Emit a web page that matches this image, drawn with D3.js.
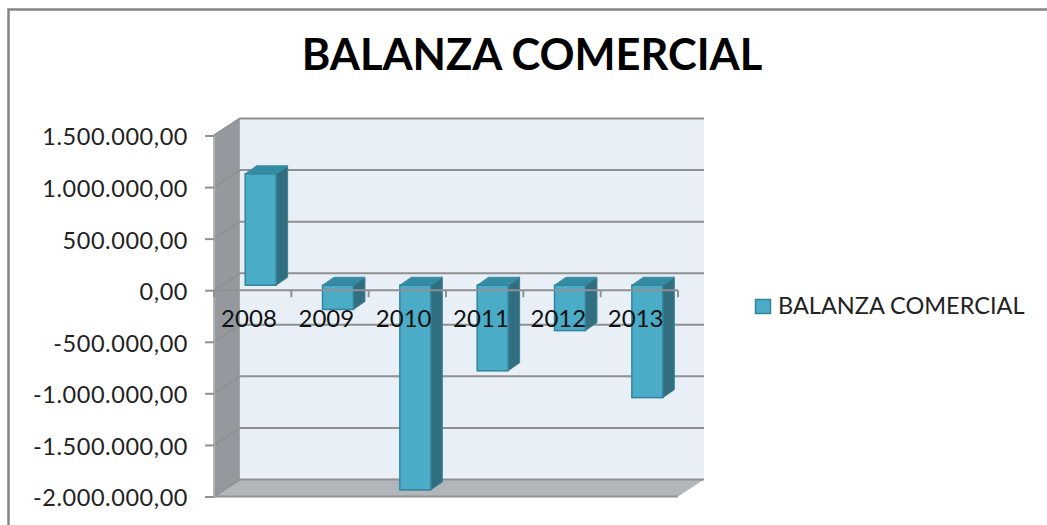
<!DOCTYPE html>
<html>
<head>
<meta charset="utf-8">
<script src="https://cdnjs.cloudflare.com/ajax/libs/d3/7.8.5/d3.min.js"></script>
<style>
  html, body { margin: 0; padding: 0; background: #fff; }
  svg { display: block; }
  svg text { font-family: Lato, "Open Sans", sans-serif; }
</style>
</head>
<body>
<div id="chart"></div>
<script>
// values
var years = ["2008", "2009", "2010", "2011", "2012", "2013"];
var balanza = [1080000, -235000, -1985000, -830000, -440000, -1090000];
var yTicks = [1500000, 1000000, 500000, 0, -500000, -1000000, -1500000, -2000000];
var chartTitle = "BALANZA COMERCIAL";
var seriesName = "BALANZA COMERCIAL";

var width = 1047,
    height = 525;

// front plane of the fake 3d box, wall sits behind it by depthX/depthY
var left = 214, right = 678, top_ = 135.5, bottom = 496.5;
var depthX = 26, depthY = 17;
// bars stand in the middle of the depth and have their own thickness
var barOffX = 8, barOffY = 5, barDepthX = 11.5, barDepthY = 8;

var gridColor = "#8f9193";

var x = d3.scaleBand().domain(years).range([left, right]).paddingInner(0.6).paddingOuter(0.3);
var y = d3.scaleLinear().domain([-2000000, 1500000]).range([bottom, top_]);

var numLocale = d3.formatLocale({decimal: ",", thousands: ".", grouping: [3], currency: ["", ""], minus: "-"});
var fmt = numLocale.format(",.2f");

var svg = d3.select("#chart").append("svg")
    .attr("width", width)
    .attr("height", height);

// outer frame, cut by the screenshot on the right and bottom
svg.append("path")
    .attr("d", "M8.5," + height + "V9.5H" + width)
    .attr("fill", "none")
    .attr("stroke", "#858585")
    .attr("stroke-width", 2.5);

// side wall
svg.append("path")
    .attr("d", "M" + left + "," + y(1500000) + "L" + (left + depthX) + "," + (y(1500000) - depthY) +
               "V" + (y(-2000000) - depthY) + "L" + left + "," + y(-2000000) + "Z")
    .attr("fill", "#95989c")
    .attr("stroke", "#a9abad")
    .attr("stroke-width", 1.5);

// back wall
svg.append("rect")
    .attr("x", left + depthX)
    .attr("y", y(1500000) - depthY)
    .attr("width", right - left)
    .attr("height", y(-2000000) - y(1500000))
    .attr("fill", "#e8eff6");

// floor
svg.append("path")
    .attr("d", "M" + left + "," + y(-2000000) + "L" + (left + depthX) + "," + (y(-2000000) - depthY) +
               "H" + (right + depthX) + "L" + right + "," + y(-2000000) + "Z")
    .attr("fill", "#b1b6ba");

// gridlines, along the wall and then down the side wall
svg.append("g").selectAll("path")
    .data(yTicks)
    .enter().append("path")
      .attr("d", function(d) {
        return "M" + left + "," + y(d) + "L" + (left + depthX) + "," + (y(d) - depthY) + "H" + (right + depthX);
      })
      .attr("fill", "none")
      .attr("stroke", gridColor)
      .attr("stroke-width", 2);

// front edge of the floor
svg.append("line")
    .attr("x1", left).attr("x2", right)
    .attr("y1", y(-2000000)).attr("y2", y(-2000000))
    .attr("stroke", gridColor)
    .attr("stroke-width", 2);

// bars
var bars = svg.append("g").selectAll("g")
    .data(years)
    .enter().append("g");

function barBox(d, i) {
  var v = balanza[i];
  var x0 = x(d) + barOffX;
  return {
    x0: x0,
    x1: x0 + x.bandwidth(),
    y0: Math.min(y(v), y(0)) - barOffY,
    y1: Math.max(y(v), y(0)) - barOffY
  };
}

bars.append("path")   // side
    .attr("d", function(d, i) {
      var b = barBox(d, i);
      return "M" + b.x1 + "," + b.y0 + "l" + barDepthX + "," + (-barDepthY) + "V" + (b.y1 - barDepthY) + "L" + b.x1 + "," + b.y1 + "Z";
    })
    .attr("fill", "#316f80")
    .attr("stroke", "#3a8296");

bars.append("path")   // top
    .attr("d", function(d, i) {
      var b = barBox(d, i);
      return "M" + b.x0 + "," + b.y0 + "l" + barDepthX + "," + (-barDepthY) + "H" + (b.x1 + barDepthX) + "L" + b.x1 + "," + b.y0 + "Z";
    })
    .attr("fill", "#348ca3")
    .attr("stroke", "#3a8ea5");

bars.append("rect")   // front
    .attr("x", function(d, i) { return barBox(d, i).x0; })
    .attr("y", function(d, i) { return barBox(d, i).y0; })
    .attr("width", x.bandwidth())
    .attr("height", function(d, i) { var b = barBox(d, i); return b.y1 - b.y0; })
    .attr("fill", "#4bacc8")
    .attr("stroke", "#34849b")
    .attr("stroke-width", 1.5);

// y axis
var yAxis = svg.append("g")
    .attr("transform", "translate(" + left + ",0)")
    .call(d3.axisLeft(y).tickValues(yTicks).tickFormat(fmt).tickSize(9).tickPadding(17));
yAxis.select(".domain").attr("stroke", "#a9abad").attr("stroke-width", 1.5);
yAxis.selectAll(".tick line").attr("stroke", gridColor).attr("stroke-width", 2);
yAxis.selectAll("text")
    .attr("fill", "#222")
    .attr("dy", "0.4em")
    .style("letter-spacing", "0.55px")
    .style("font-size", "23.5px");

// x axis at zero, over the bars; ticks sit between the categories
svg.append("line")
    .attr("x1", left).attr("x2", right)
    .attr("y1", y(0)).attr("y2", y(0))
    .attr("stroke", gridColor)
    .attr("stroke-width", 2);

svg.append("g").selectAll("line")
    .data(d3.range(years.length + 1))
    .enter().append("line")
      .attr("x1", function(i) { return left + i * x.step(); })
      .attr("x2", function(i) { return left + i * x.step(); })
      .attr("y1", y(0))
      .attr("y2", y(0) + 7)
      .attr("stroke", gridColor)
      .attr("stroke-width", 2);

var xAxis = svg.append("g")
    .attr("transform", "translate(-3.7," + y(0) + ")")
    .call(d3.axisBottom(x).tickSize(0).tickPadding(20));
xAxis.select(".domain").remove();
xAxis.selectAll("text")
    .attr("fill", "#111")
    .style("font-size", "24px");

// title
svg.append("text")
    .attr("x", 532)
    .attr("y", 70)
    .attr("text-anchor", "middle")
    .attr("font-weight", "bold")
    .attr("fill", "#000")
    .style("font-size", "43.4px")
    .text(chartTitle);

// legend
svg.append("rect")
    .attr("x", 755.5).attr("y", 299.5)
    .attr("width", 15).attr("height", 14)
    .attr("fill", "#4bacc8")
    .attr("stroke", "#34849b")
    .attr("stroke-width", 1.5);

svg.append("text")
    .attr("x", 778)
    .attr("y", 313.5)
    .attr("fill", "#222")
    .style("font-size", "23.5px")
    .text(seriesName);
</script>
</body>
</html>
